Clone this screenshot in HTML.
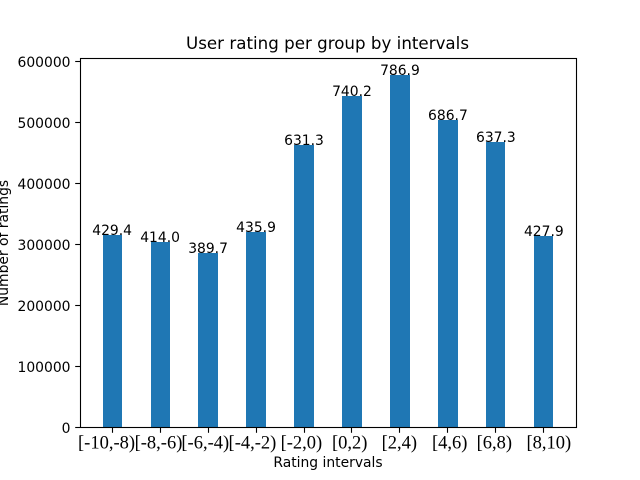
<!DOCTYPE html>
<html>
<head>
<meta charset="utf-8">
<title>User rating per group by intervals</title>
<style>
html,body{margin:0;padding:0;background:#fff;width:640px;height:480px;overflow:hidden}
svg{display:block}
text{font-family:"DejaVu Sans",sans-serif;fill:#000}
</style>
</head>
<body>
<svg id="chart" width="640" height="480" viewBox="0 0 640 480" xmlns="http://www.w3.org/2000/svg"></svg>
<script>
const categories = ["[-10,-8)","[-8,-6)","[-6,-4)","[-4,-2)","[-2,0)","[0,2)","[2,4)","[4,6)","[6,8)","[8,10)"];
const ratingCounts = [315900,304400,285800,320800,463500,543500,577600,504600,468400,313800];
const printedValues = ["429.4","414.0","389.7","435.9","631.3","740.2","786.9","686.7","637.3","427.9"];
const yTicks = [0,100000,200000,300000,400000,500000,600000];

const NS = "http://www.w3.org/2000/svg";
const svg = document.getElementById("chart");
const plot = {left:80, right:576, top:57.6, bottom:427.2};
const barWidthUnits = 0.4;
const labelNudge = [-5.6,-1.6,-2.8,-3.6,-2.6,-2.3,-0.6,1.8,-1.6,5];
const xMin = -barWidthUnits/2 - 0.05*(categories.length-1+barWidthUnits);
const xMax = categories.length-1+barWidthUnits/2 + 0.05*(categories.length-1+barWidthUnits);
const yMax = Math.max(...ratingCounts)*1.05;
function xScale(i){return plot.left+(i-xMin)/(xMax-xMin)*(plot.right-plot.left);}
function yScale(v){return plot.bottom-v/yMax*(plot.bottom-plot.top);}
function make(tag,attrs,content){
  const el=document.createElementNS(NS,tag);
  for(const k in attrs){el.setAttribute(k,attrs[k]);}
  if(content!==undefined){el.textContent=content;}
  svg.appendChild(el);
  return el;
}

ratingCounts.forEach(function(v,i){
  const x0=Math.round(xScale(i-barWidthUnits/2)), x1=Math.round(xScale(i+barWidthUnits/2)), y=Math.round(yScale(v));
  const bar=make("rect",{x:x0,y:y,width:x1-x0,height:Math.round(plot.bottom)-y,fill:"#1f77b4"});
  
  
});

ratingCounts.forEach(function(v,i){
  const t=make("text",{x:xScale(i),y:Math.round(yScale(v)),"text-anchor":"middle","font-size":"13.89px"},printedValues[i]);
  
  
});

const frame=make("rect",{x:80.5,y:58.5,width:496,height:369,fill:"none",stroke:"#000","stroke-width":1.1});



yTicks.forEach(function(v){
  const y=Math.floor(yScale(v)+0.4)+0.5;
  const tick=make("line",{x1:75.2,x2:80,y1:y,y2:y,stroke:"#000","stroke-width":1.1});
  
  
  const label=make("text",{x:70.5,y:y+5.5,"text-anchor":"end","font-size":"13.89px"},String(v));
  
  
});

categories.forEach(function(c,i){
  const x=Math.round(xScale(i)-0.5)+0.5;
  const tick=make("line",{x1:x,x2:x,y1:427.5,y2:432.8,stroke:"#000","stroke-width":1.1});
  
  
  const label=make("text",{x:xScale(i)+labelNudge[i],y:448.5,"text-anchor":"middle","font-size":"18.5px",style:'font-family:"Liberation Serif",serif'},c);
  
  
});

const title=make("text",{x:327.5,y:49,"text-anchor":"middle","font-size":"16.67px",textLength:"283",lengthAdjust:"spacing"},"User rating per group by intervals");



const xTitle=make("text",{x:328,y:467,"text-anchor":"middle","font-size":"13.89px"},"Rating intervals");



const yTitle=make("text",{x:0,y:0,"text-anchor":"middle","font-size":"13.89px",transform:"translate(8,243) rotate(-90)"},"Number of ratings");


</script>
</body>
</html>
